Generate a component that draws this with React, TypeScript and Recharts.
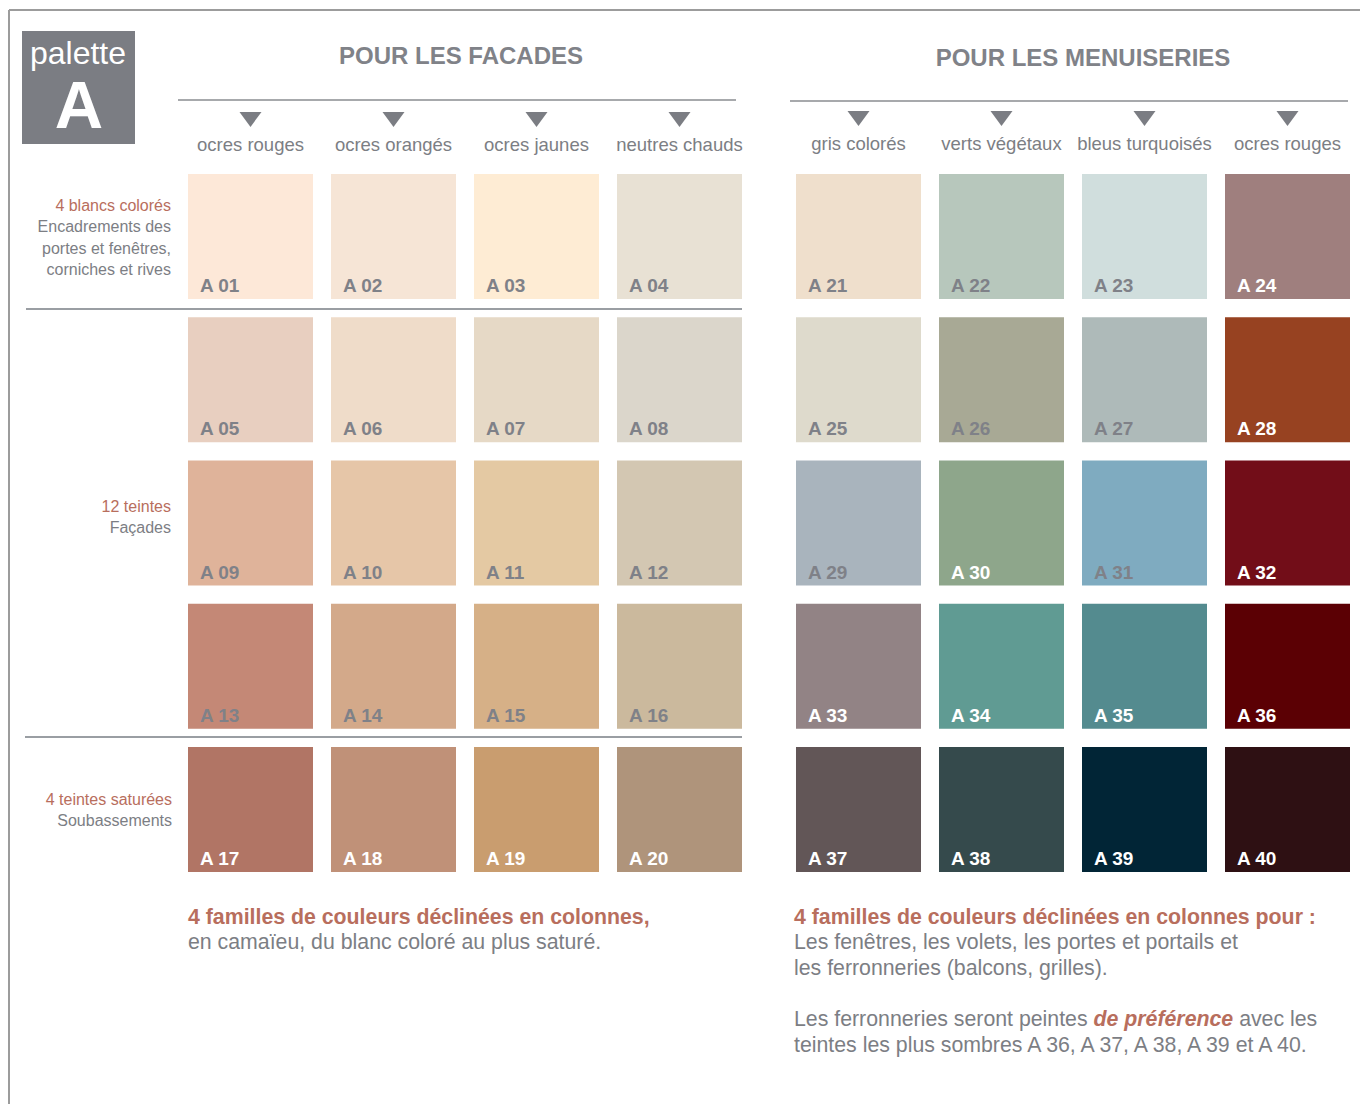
import React from 'react';
import { ScatterChart, Scatter, XAxis, YAxis, Customized } from 'recharts';

const facadeFamilies = ['ocres rouges', 'ocres orangés', 'ocres jaunes', 'neutres chauds'];
const joineryFamilies = ['gris colorés', 'verts végétaux', 'bleus turquoisés', 'ocres rouges'];

// rows top→bottom, columns left→right
const facadeColors = [
  ['#fde8d8', '#f6e5d6', '#feecd4', '#e8e1d4'],
  ['#e8cfc0', '#efdcc9', '#e6d9c6', '#dbd6cb'],
  ['#dfb39a', '#e6c6a8', '#e4c9a3', '#d3c7b2'],
  ['#c48876', '#d3a98a', '#d6b087', '#cbb99d'],
  ['#b17565', '#c09178', '#c99d6f', '#af947b'],
];
const facadeWhiteLabel = [
  [false, false, false, false],
  [false, false, false, false],
  [false, false, false, false],
  [false, false, false, false],
  [true, true, true, true],
];
const joineryColors = [
  ['#efdfcc', '#b7c7bc', '#d0dedd', '#9f7f7e'],
  ['#dedacc', '#a8a995', '#aebab9', '#974221'],
  ['#a9b4bd', '#8ea68b', '#7fabc0', '#720d18'],
  ['#928385', '#609b93', '#548b8f', '#5b0004'],
  ['#625657', '#354a4c', '#012536', '#2e1013'],
];
const joineryWhiteLabel = [
  [false, false, false, true],
  [false, false, false, true],
  [false, true, false, true],
  [true, true, true, true],
  [true, true, true, true],
];

const facadeData = facadeColors.flatMap((row, r) =>
  row.map((color, c) => ({ col: c, row: r, color, white: facadeWhiteLabel[r][c], code: `A ${String(r * 4 + c + 1).padStart(2, '0')}` }))
);
const joineryData = joineryColors.flatMap((row, r) =>
  row.map((color, c) => ({ col: c, row: r, color, white: joineryWhiteLabel[r][c], code: `A ${String(20 + r * 4 + c + 1).padStart(2, '0')}` }))
);

const FONT = '"Liberation Sans", Arial, Helvetica, sans-serif';
const GRAY = '#7c7e84';
const RED = '#b86e5d';
const SW = 125;

const Swatch = (props: any) => {
  const { cx, cy, payload } = props;
  if (cx == null || cy == null) return null;
  return (
    <g>
      <rect x={cx - SW / 2} y={cy - SW / 2} width={SW} height={SW} fill={payload.color} />
      <text x={cx - SW / 2 + 12} y={cy + SW / 2 - 7} fontSize={19} fontWeight="bold" fontFamily={FONT} fill={payload.white ? '#ffffff' : '#7f8188'}>
        {payload.code}
      </text>
    </g>
  );
};

const makeTick = (labels: string[]) => (props: any) => {
  const { x, y, payload } = props;
  const label = labels[payload.value];
  if (label == null) return <g />;
  return (
    <g>
      <polygon points={`${x - 11},${y - 53} ${x + 11},${y - 53} ${x},${y - 38}`} fill="#7b7d83" />
      <text x={x} y={y - 14} textAnchor="middle" fontSize={18.5} fontFamily={FONT} fill={GRAY}>
        {label}
      </text>
    </g>
  );
};

const Decor = () => (
  <g fontFamily={FONT}>
    {/* frame */}
    <line x1={9} y1={10} x2={1360} y2={10} stroke="#9c9c9c" strokeWidth={2} />
    <line x1={9} y1={10} x2={9} y2={1104} stroke="#9c9c9c" strokeWidth={2} />
    {/* palette badge */}
    <rect x={22} y={31} width={113} height={113} fill="#7b7d83" />
    <text x={78} y={64} textAnchor="middle" fontSize={32} fill="#ffffff">palette</text>
    <text x={79} y={128} textAnchor="middle" fontSize={67} fontWeight="bold" fill="#ffffff">A</text>
    {/* headers */}
    <text x={461} y={64} textAnchor="middle" fontSize={24} fontWeight="bold" fill="#808288">POUR LES FACADES</text>
    <text x={1083} y={66} textAnchor="middle" fontSize={24} fontWeight="bold" fill="#808288">POUR LES MENUISERIES</text>
    <line x1={178} y1={100} x2={736} y2={100} stroke="#8a8c90" strokeWidth={1.5} />
    <line x1={790} y1={101} x2={1348} y2={101} stroke="#8a8c90" strokeWidth={1.5} />
    {/* row separators */}
    <line x1={26} y1={309} x2={742} y2={309} stroke="#9a9ea3" strokeWidth={2} />
    <line x1={25} y1={737} x2={742} y2={737} stroke="#9a9ea3" strokeWidth={2} />
    {/* row group labels */}
    <g textAnchor="end" fontSize={16}>
      <text x={171} y={211} fill={RED}>4 blancs colorés</text>
      <text x={171} y={232} fill={GRAY}>Encadrements des</text>
      <text x={171} y={254} fill={GRAY}>portes et fenêtres,</text>
      <text x={171} y={275} fill={GRAY}>corniches et rives</text>
      <text x={171} y={512} fill={RED}>12 teintes</text>
      <text x={171} y={533} fill={GRAY}>Façades</text>
      <text x={172} y={805} fill={RED}>4 teintes saturées</text>
      <text x={172} y={826} fill={GRAY}>Soubassements</text>
    </g>
    {/* footnotes */}
    <g fontSize={21.3}>
      <text x={188} y={924} fontWeight="bold" fill={RED}>4 familles de couleurs déclinées en colonnes,</text>
      <text x={188} y={949} fill={GRAY}>en camaïeu, du blanc coloré au plus saturé.</text>
      <text x={794} y={924} fontWeight="bold" fill={RED}>4 familles de couleurs déclinées en colonnes pour :</text>
      <text x={794} y={949} fill={GRAY}>Les fenêtres, les volets, les portes et portails et</text>
      <text x={794} y={975} fill={GRAY}>les ferronneries (balcons, grilles).</text>
      <text x={794} y={1026} fill={GRAY}>
        Les ferronneries seront peintes{' '}
        <tspan fontWeight="bold" fontStyle="italic" fill={RED}>de préférence</tspan>
        {' '}avec les
      </text>
      <text x={794} y={1052} fill={GRAY}>teintes les plus sombres A 36, A 37, A 38, A 39 et A 40.</text>
    </g>
  </g>
);

export default function App() {
  return (
    <div style={{ position: 'absolute', left: 0, top: 0, width: 1360, height: 1104, background: '#fff' }}>
      <ScatterChart width={1360} height={1104} margin={{ top: 162.875, right: 1, bottom: 222.875, left: 179 }}>
        <XAxis
          xAxisId="fac"
          type="number"
          dataKey="col"
          orientation="top"
          domain={[-0.5, 7.7517]}
          allowDataOverflow
          ticks={[0, 1, 2, 3]}
          tick={makeTick(facadeFamilies)}
          axisLine={false}
          tickLine={false}
          tickSize={0}
          tickMargin={0}
          height={1}
          interval={0}
        />
        <XAxis
          xAxisId="men"
          type="number"
          dataKey="col"
          orientation="top"
          domain={[-4.7517, 3.5]}
          allowDataOverflow
          ticks={[0, 1, 2, 3]}
          tick={makeTick(joineryFamilies)}
          axisLine={false}
          tickLine={false}
          tickSize={0}
          tickMargin={0}
          height={1}
          interval={0}
        />
        <YAxis type="number" dataKey="row" domain={[-0.5, 4.5]} reversed hide allowDataOverflow />
        <Customized component={Decor} />
        <Scatter xAxisId="fac" data={facadeData} shape={Swatch} isAnimationActive={false} />
        <Scatter xAxisId="men" data={joineryData} shape={Swatch} isAnimationActive={false} />
      </ScatterChart>
    </div>
  );
}
